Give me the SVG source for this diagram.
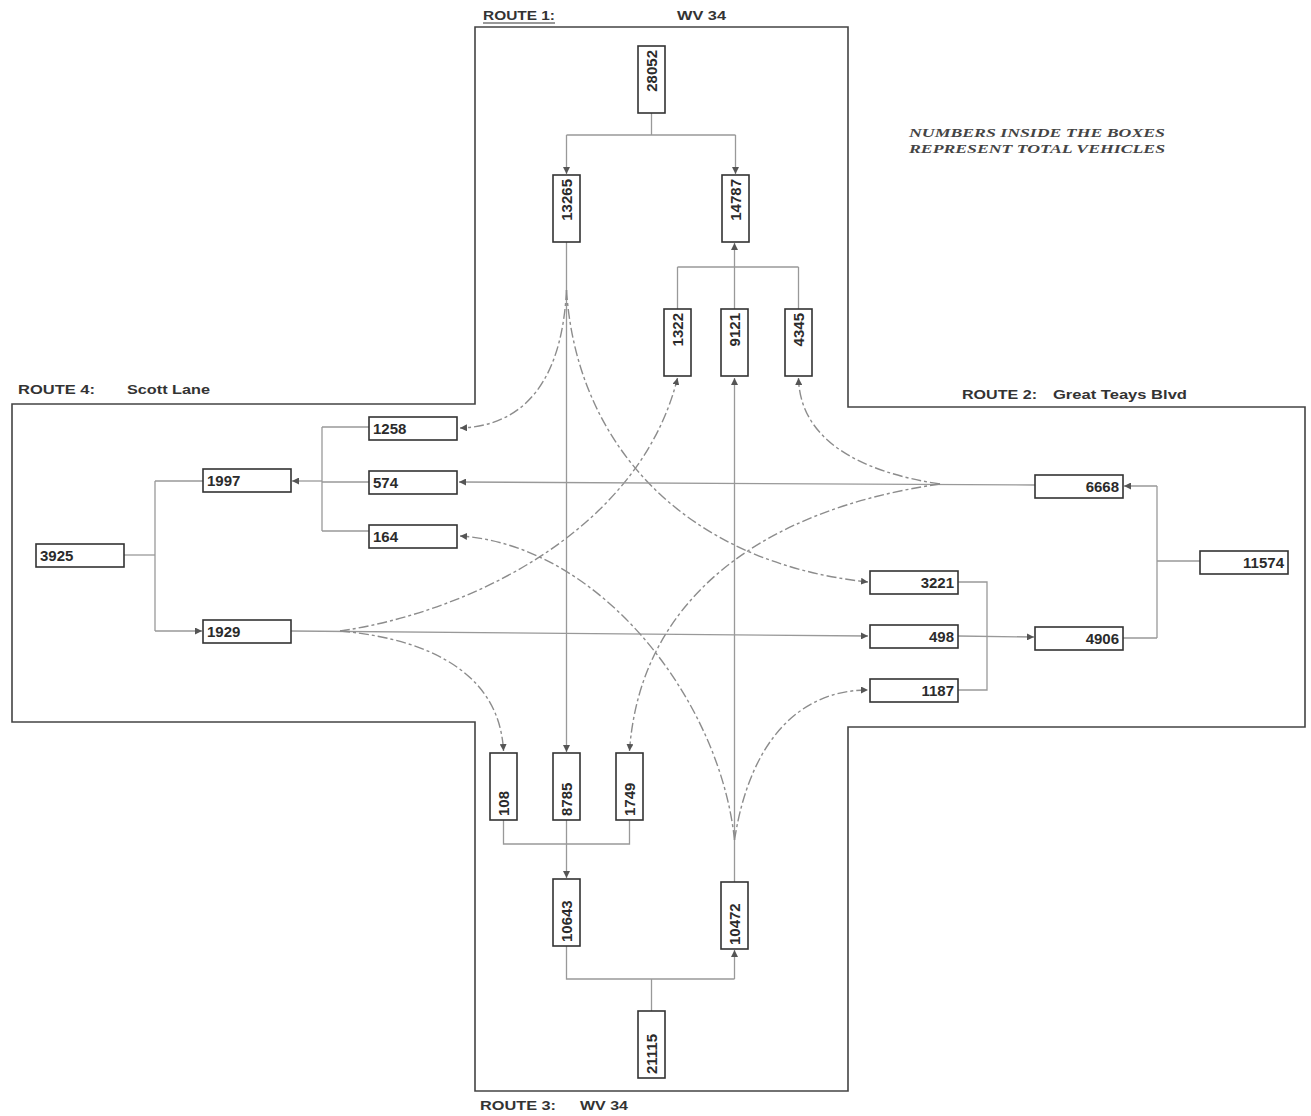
<svg xmlns="http://www.w3.org/2000/svg" width="1311" height="1116" viewBox="0 0 1311 1116">
<defs>
<style>
.box{fill:#fff;stroke:#333;stroke-width:1.6}
.t{font-family:"Liberation Sans",Arial,sans-serif;font-weight:bold;font-size:15px;fill:#2b2b2b}
.lbl{font-family:"Liberation Sans",Arial,sans-serif;font-weight:bold;font-size:13px;fill:#333}
.note{font-family:"Liberation Serif","Times New Roman",serif;font-weight:bold;font-style:italic;font-size:12.5px;fill:#444}
.outline{fill:none;stroke:#444;stroke-width:1.6}
.ln{fill:none;stroke:#999;stroke-width:1.3}
.cv{fill:none;stroke:#8c8c8c;stroke-width:1.4;stroke-dasharray:10 3 3 3}
</style>
<marker id="ah" viewBox="0 0 8 8" refX="8" refY="4" markerWidth="7" markerHeight="7" markerUnits="userSpaceOnUse" orient="auto">
<path d="M0,0 L8,4 L0,8 z" fill="#555"/>
</marker>
</defs>
<rect width="1311" height="1116" fill="#fff"/>

<g id="outline">
<path class="outline" d="M475,27 L848,27 L848,407 L1305,407 L1305,727 L848,727 L848,1091 L475,1091 L475,722 L12,722 L12,404 L475,404 Z"/>
</g>

<g id="labels">
<text class="lbl" x="483" y="20" textLength="72" lengthAdjust="spacingAndGlyphs">ROUTE 1:</text>
<line x1="483" y1="23" x2="555" y2="23" stroke="#333" stroke-width="1"/>
<text class="lbl" x="677" y="20" textLength="49" lengthAdjust="spacingAndGlyphs">WV 34</text>
<text class="lbl" x="18" y="394" textLength="77" lengthAdjust="spacingAndGlyphs">ROUTE 4:</text>
<text class="lbl" x="127" y="394" textLength="83" lengthAdjust="spacingAndGlyphs">Scott Lane</text>
<text class="lbl" x="962" y="399" textLength="75" lengthAdjust="spacingAndGlyphs">ROUTE 2:</text>
<text class="lbl" x="1053" y="399" textLength="134" lengthAdjust="spacingAndGlyphs">Great Teays Blvd</text>
<text class="lbl" x="480" y="1110" textLength="76" lengthAdjust="spacingAndGlyphs">ROUTE 3:</text>
<text class="lbl" x="580" y="1110" textLength="48" lengthAdjust="spacingAndGlyphs">WV 34</text>
<text class="note" x="909" y="137" textLength="256" lengthAdjust="spacingAndGlyphs">NUMBERS INSIDE THE BOXES</text>
<text class="note" x="909" y="153" textLength="256" lengthAdjust="spacingAndGlyphs">REPRESENT TOTAL VEHICLES</text>
</g>

<g id="connectors">
<path class="ln" d="M651.5,113 L651.5,135"/>
<path class="ln" d="M566.5,135 L735.5,135"/>
<path class="ln" d="M566.5,135 L566.5,174" marker-end="url(#ah)"/>
<path class="ln" d="M735.5,135 L735.5,174" marker-end="url(#ah)"/>
<path class="ln" d="M734.5,267 L734.5,243" marker-end="url(#ah)"/>
<path class="ln" d="M677.5,267 L798.5,267"/>
<path class="ln" d="M677.5,267 L677.5,309"/>
<path class="ln" d="M734.5,267 L734.5,309"/>
<path class="ln" d="M798.5,267 L798.5,309"/>
<path class="ln" d="M124,555 L155,555"/>
<path class="ln" d="M155,481 L155,631"/>
<path class="ln" d="M155,481 L203,481"/>
<path class="ln" d="M155,631 L202,631" marker-end="url(#ah)"/>
<path class="ln" d="M322,427 L322,531"/>
<path class="ln" d="M322,427 L369,427"/>
<path class="ln" d="M322,482 L369,482"/>
<path class="ln" d="M322,531 L369,531"/>
<path class="ln" d="M322,481 L292,481" marker-end="url(#ah)"/>
<path class="ln" d="M1157,486 L1124,486" marker-end="url(#ah)"/>
<path class="ln" d="M1157,486 L1157,638"/>
<path class="ln" d="M1157,561 L1200,561"/>
<path class="ln" d="M1123,638 L1157,638"/>
<path class="ln" d="M958,582 L987,582 L987,690 L958,690"/>
<path class="ln" d="M958,636 L1034,637" marker-end="url(#ah)"/>
<path class="ln" d="M503.5,820 L503.5,844 L629.5,844 L629.5,820"/>
<path class="ln" d="M566.5,820 L566.5,878" marker-end="url(#ah)"/>
<path class="ln" d="M566.5,946 L566.5,979 L734.5,979"/>
<path class="ln" d="M734.5,979 L734.5,950" marker-end="url(#ah)"/>
<path class="ln" d="M651.5,1011 L651.5,979"/>
<path class="ln" d="M566.5,242 L566.5,752" marker-end="url(#ah)"/>
<path class="cv" d="M566.5,290 C562,380 525,426 460,428" marker-end="url(#ah)"/>
<path class="cv" d="M566.5,290 C576,440 680,562 868,582" marker-end="url(#ah)"/>
<path class="ln" d="M291,631 L868,636" marker-end="url(#ah)"/>
<path class="cv" d="M340,631 C470,612 640,530 677.5,378" marker-end="url(#ah)"/>
<path class="cv" d="M340,631 C440,640 500,680 503.5,751" marker-end="url(#ah)"/>
<path class="ln" d="M1035,485 L459,482" marker-end="url(#ah)"/>
<path class="cv" d="M940,484 C860,472 800,440 798.5,378" marker-end="url(#ah)"/>
<path class="cv" d="M940,484 C760,510 640,600 629.5,751" marker-end="url(#ah)"/>
<path class="ln" d="M734.5,882 L734.5,378" marker-end="url(#ah)"/>
<path class="cv" d="M734.5,840 C720,700 600,545 460,536" marker-end="url(#ah)"/>
<path class="cv" d="M734.5,840 C750,740 800,690 868,690" marker-end="url(#ah)"/>
</g>

<g id="n28052"><rect class="box" x="638" y="46" width="27" height="67"/><text class="t" transform="translate(657,50) rotate(-90)" text-anchor="end">28052</text></g>
<g id="n13265"><rect class="box" x="553" y="175" width="27" height="67"/><text class="t" transform="translate(572,179) rotate(-90)" text-anchor="end">13265</text></g>
<g id="n14787"><rect class="box" x="722" y="175" width="27" height="67"/><text class="t" transform="translate(741,179) rotate(-90)" text-anchor="end">14787</text></g>
<g id="n1322"><rect class="box" x="664" y="309" width="27" height="67"/><text class="t" transform="translate(683,313) rotate(-90)" text-anchor="end">1322</text></g>
<g id="n9121"><rect class="box" x="721" y="309" width="27" height="67"/><text class="t" transform="translate(740,313) rotate(-90)" text-anchor="end">9121</text></g>
<g id="n4345"><rect class="box" x="785" y="309" width="27" height="67"/><text class="t" transform="translate(804,313) rotate(-90)" text-anchor="end">4345</text></g>

<g id="n108"><rect class="box" x="490" y="753" width="27" height="67"/><text class="t" transform="translate(509,816) rotate(-90)">108</text></g>
<g id="n8785"><rect class="box" x="553" y="753" width="27" height="67"/><text class="t" transform="translate(572,816) rotate(-90)">8785</text></g>
<g id="n1749"><rect class="box" x="616" y="753" width="27" height="67"/><text class="t" transform="translate(635,816) rotate(-90)">1749</text></g>
<g id="n10643"><rect class="box" x="553" y="879" width="27" height="67"/><text class="t" transform="translate(572,942) rotate(-90)">10643</text></g>
<g id="n10472"><rect class="box" x="721" y="882" width="27" height="67"/><text class="t" transform="translate(740,945) rotate(-90)">10472</text></g>
<g id="n21115"><rect class="box" x="638" y="1011" width="27" height="67"/><text class="t" transform="translate(657,1074) rotate(-90)">21115</text></g>

<g id="n1258"><rect class="box" x="369" y="417" width="88" height="23"/><text class="t" x="373" y="434">1258</text></g>
<g id="n1997"><rect class="box" x="203" y="469" width="88" height="23"/><text class="t" x="207" y="486">1997</text></g>
<g id="n574"><rect class="box" x="369" y="471" width="88" height="23"/><text class="t" x="373" y="488">574</text></g>
<g id="n164"><rect class="box" x="369" y="525" width="88" height="23"/><text class="t" x="373" y="542">164</text></g>
<g id="n3925"><rect class="box" x="36" y="544" width="88" height="23"/><text class="t" x="40" y="561">3925</text></g>
<g id="n1929"><rect class="box" x="203" y="620" width="88" height="23"/><text class="t" x="207" y="637">1929</text></g>

<g id="n6668"><rect class="box" x="1035" y="475" width="88" height="23"/><text class="t" x="1119" y="492" text-anchor="end">6668</text></g>
<g id="n11574"><rect class="box" x="1200" y="551" width="88" height="23"/><text class="t" x="1284" y="568" text-anchor="end">11574</text></g>
<g id="n3221"><rect class="box" x="870" y="571" width="88" height="23"/><text class="t" x="954" y="588" text-anchor="end">3221</text></g>
<g id="n498"><rect class="box" x="870" y="625" width="88" height="23"/><text class="t" x="954" y="642" text-anchor="end">498</text></g>
<g id="n4906"><rect class="box" x="1035" y="627" width="88" height="23"/><text class="t" x="1119" y="644" text-anchor="end">4906</text></g>
<g id="n1187"><rect class="box" x="870" y="679" width="88" height="23"/><text class="t" x="954" y="696" text-anchor="end">1187</text></g>
</svg>
